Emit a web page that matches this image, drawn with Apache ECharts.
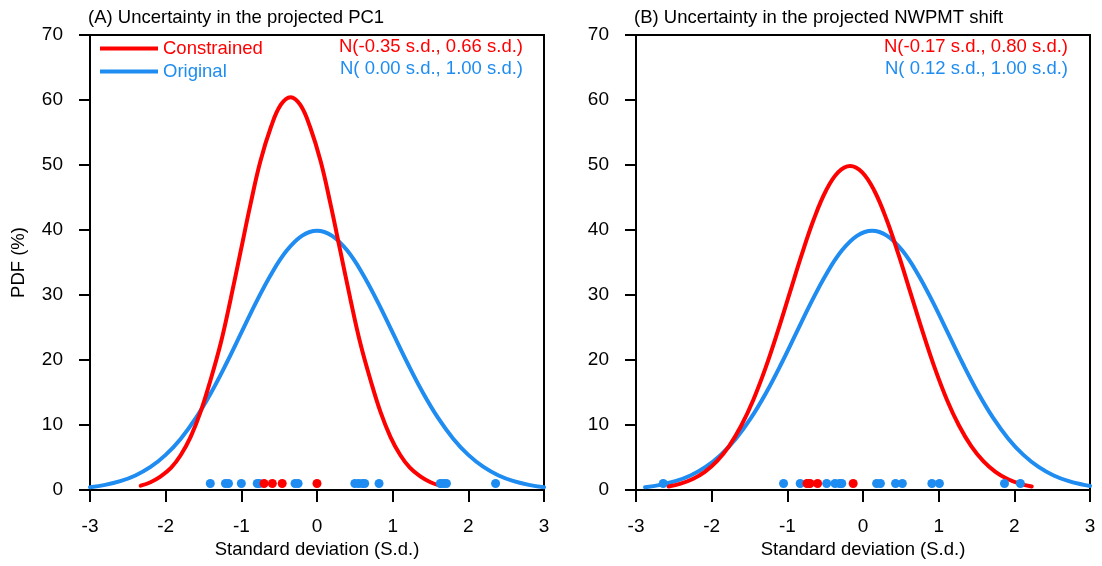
<!DOCTYPE html>
<html>
<head>
<meta charset="utf-8">
<script src="https://cdn.jsdelivr.net/npm/echarts@6/dist/echarts.min.js"></script>
<style>
  html, body { margin: 0; padding: 0; background: #fff; }
  #main { width: 1102px; height: 566px; }
</style>
</head>
<body>
<div id="main"></div>
<script>
// 曲线数据 (A) PC1
var aRedX = [-2.33,-2.20,-2.07,-1.93,-1.80,-1.67,-1.54,-1.41,-1.27,-1.14,-1.01,-0.88,-0.75,-0.61,-0.48,-0.35,-0.22,-0.09,0.05,0.18,0.31,0.44,0.57,0.71,0.84,0.97,1.10,1.23,1.37,1.50,1.63];
var aRedY = [0.67,1.20,2.06,3.39,5.38,8.18,11.97,16.80,22.68,29.43,36.67,43.90,50.49,55.80,59.24,60.44,59.24,55.80,50.49,43.90,36.67,29.43,22.68,16.80,11.97,8.18,5.38,3.39,2.06,1.20,0.67];
var aBlueX = [-3.0,-2.8,-2.6,-2.4,-2.2,-2.0,-1.8,-1.6,-1.4,-1.2,-1.0,-0.8,-0.6,-0.4,-0.2,0.0,0.2,0.4,0.6,0.8,1.0,1.2,1.4,1.6,1.8,2.0,2.2,2.4,2.6,2.8,3.0];
var aBlueY = [0.44,0.79,1.36,2.24,3.55,5.40,7.90,11.09,14.97,19.42,24.20,28.97,33.32,36.83,39.10,39.89,39.10,36.83,33.32,28.97,24.20,19.42,14.97,11.09,7.90,5.40,3.55,2.24,1.36,0.79,0.44];
var aBlueDots = [-1.41,-1.21,-1.17,-1.00,-0.79,-0.76,-0.29,-0.25,0.50,0.55,0.60,0.63,0.82,1.63,1.67,1.71,2.36];
var aRedDots = [-0.70,-0.59,-0.46,0.00];

// 曲线数据 (B) NWPMT shift
var bRedX = [-2.57,-2.41,-2.25,-2.09,-1.93,-1.77,-1.61,-1.45,-1.29,-1.13,-0.97,-0.81,-0.65,-0.49,-0.33,-0.17,-0.01,0.15,0.31,0.47,0.63,0.79,0.95,1.11,1.27,1.43,1.59,1.75,1.91,2.07,2.23];
var bRedY = [0.55,0.99,1.70,2.80,4.44,6.75,9.88,13.86,18.71,24.28,30.25,36.21,41.65,46.04,48.88,49.86,48.88,46.04,41.65,36.21,30.25,24.28,18.71,13.86,9.88,6.75,4.44,2.80,1.70,0.99,0.55];
var bBlueX = [-2.88,-2.68,-2.48,-2.28,-2.08,-1.88,-1.68,-1.48,-1.28,-1.08,-0.88,-0.68,-0.48,-0.28,-0.08,0.12,0.32,0.52,0.72,0.92,1.12,1.32,1.52,1.72,1.92,2.12,2.32,2.52,2.72,2.92,3.00];
var bBlueY = [0.44,0.79,1.36,2.24,3.55,5.40,7.90,11.09,14.97,19.42,24.20,28.97,33.32,36.83,39.10,39.89,39.10,36.83,33.32,28.97,24.20,19.42,14.97,11.09,7.90,5.40,3.55,2.24,1.36,0.79,0.63];
var bBlueDots = [-2.64,-1.05,-0.83,-0.72,-0.48,-0.37,-0.31,-0.28,0.18,0.23,0.43,0.52,0.91,1.01,1.87,2.08];
var bRedDots = [-0.74,-0.70,-0.60,-0.13];

var titles = ['(A) Uncertainty in the projected PC1', '(B) Uncertainty in the projected NWPMT shift'];
var aLabels = ['N(-0.35 s.d., 0.66 s.d.)', 'N( 0.00 s.d., 1.00 s.d.)'];
var bLabels = ['N(-0.17 s.d., 0.80 s.d.)', 'N( 0.12 s.d., 1.00 s.d.)'];
var dotY = 1;

var RED = '#ff0000', BLUE = '#1e8cf0';
var FONT = 'Liberation Sans';
var FS = 18.5;

function pairs(xs, ys) {
    var out = [];
    for (var i = 0; i < xs.length; i++) out.push([xs[i], ys[i]]);
    return out;
}
function dots(xs) {
    return xs.map(function (x) { return [x, dotY]; });
}

function xAxisOf(idx) {
    return {
        type: 'value', gridIndex: idx, min: -3, max: 3, interval: 1,
        name: 'Standard deviation (S.d.)', nameLocation: 'middle', nameGap: 49,
        nameTextStyle: { color: '#000', fontSize: FS, fontFamily: FONT },
        axisLine: { show: true, onZero: false, lineStyle: { color: '#000', width: 2 } },
        axisTick: { show: true, length: 12, lineStyle: { color: '#000', width: 2 } },
        axisLabel: { color: '#000', fontSize: 19, fontFamily: FONT, margin: 27 },
        splitLine: { show: false }
    };
}
function yAxisOf(idx, withName) {
    return {
        type: 'value', gridIndex: idx, min: 0, max: 70, interval: 10,
        name: withName ? 'PDF (%)' : '', nameLocation: 'middle', nameGap: 62,
        nameTextStyle: { color: '#000', fontSize: FS, fontFamily: FONT },
        axisLine: { show: true, onZero: false, lineStyle: { color: '#000', width: 2 } },
        axisTick: { show: true, length: 11, lineStyle: { color: '#000', width: 2 } },
        axisLabel: { color: '#000', fontSize: 19, fontFamily: FONT, margin: 27 },
        splitLine: { show: false }
    };
}
function curve(name, idx, data, color) {
    return {
        name: name, type: 'line', xAxisIndex: idx, yAxisIndex: idx, data: data,
        smooth: 0.4, showSymbol: false, symbol: 'none',
        lineStyle: { color: color, width: 4, cap: 'round' }, itemStyle: { color: color },
        z: 2, silent: true
    };
}
function scatter(name, idx, data, color, z) {
    return {
        name: name, type: 'scatter', xAxisIndex: idx, yAxisIndex: idx, data: data,
        symbolSize: 9, itemStyle: { color: color, opacity: 1 }, z: z, silent: true
    };
}

var myChart = echarts.init(document.getElementById('main'));
var option = {
    animation: false,
    backgroundColor: '#fff',
    title: [
        { text: titles[0], left: 83, top: 3, textStyle: { color: '#000', fontSize: FS, fontWeight: 'normal', fontFamily: FONT } },
        { text: titles[1], left: 629, top: 3, textStyle: { color: '#000', fontSize: FS, fontWeight: 'normal', fontFamily: FONT } }
    ],
    legend: {
        left: 95, top: 34, orient: 'vertical', icon: 'rect',
        itemWidth: 58, itemHeight: 4, itemGap: 4,
        textStyle: { fontSize: FS, fontFamily: FONT, lineHeight: 18 },
        data: [
            { name: 'Constrained', textStyle: { color: RED } },
            { name: 'Original', textStyle: { color: BLUE } }
        ],
        selectedMode: false
    },
    grid: [
        { left: 90, top: 35, width: 454, height: 455, show: true, borderColor: '#000', borderWidth: 2 },
        { left: 636, top: 35, width: 454, height: 455, show: true, borderColor: '#000', borderWidth: 2 }
    ],
    xAxis: [xAxisOf(0), xAxisOf(1)],
    yAxis: [yAxisOf(0, true), yAxisOf(1, false)],
    graphic: [
        { type: 'text', right: 579, top: 37, style: { text: aLabels[0], fill: RED, font: FS + 'px ' + FONT } },
        { type: 'text', right: 579, top: 59, style: { text: aLabels[1], fill: BLUE, font: FS + 'px ' + FONT } },
        { type: 'text', right: 34, top: 37, style: { text: bLabels[0], fill: RED, font: FS + 'px ' + FONT } },
        { type: 'text', right: 34, top: 59, style: { text: bLabels[1], fill: BLUE, font: FS + 'px ' + FONT } }
    ],
    series: [
        curve('Original', 0, pairs(aBlueX, aBlueY), BLUE),
        curve('Constrained', 0, pairs(aRedX, aRedY), RED),
        scatter('Original dots', 0, dots(aBlueDots), BLUE, 3),
        scatter('Constrained dots', 0, dots(aRedDots), RED, 4),
        curve('Original', 1, pairs(bBlueX, bBlueY), BLUE),
        curve('Constrained', 1, pairs(bRedX, bRedY), RED),
        scatter('Original dots', 1, dots(bBlueDots), BLUE, 3),
        scatter('Constrained dots', 1, dots(bRedDots), RED, 4)
    ]
};
myChart.setOption(option);
</script>
</body>
</html>
